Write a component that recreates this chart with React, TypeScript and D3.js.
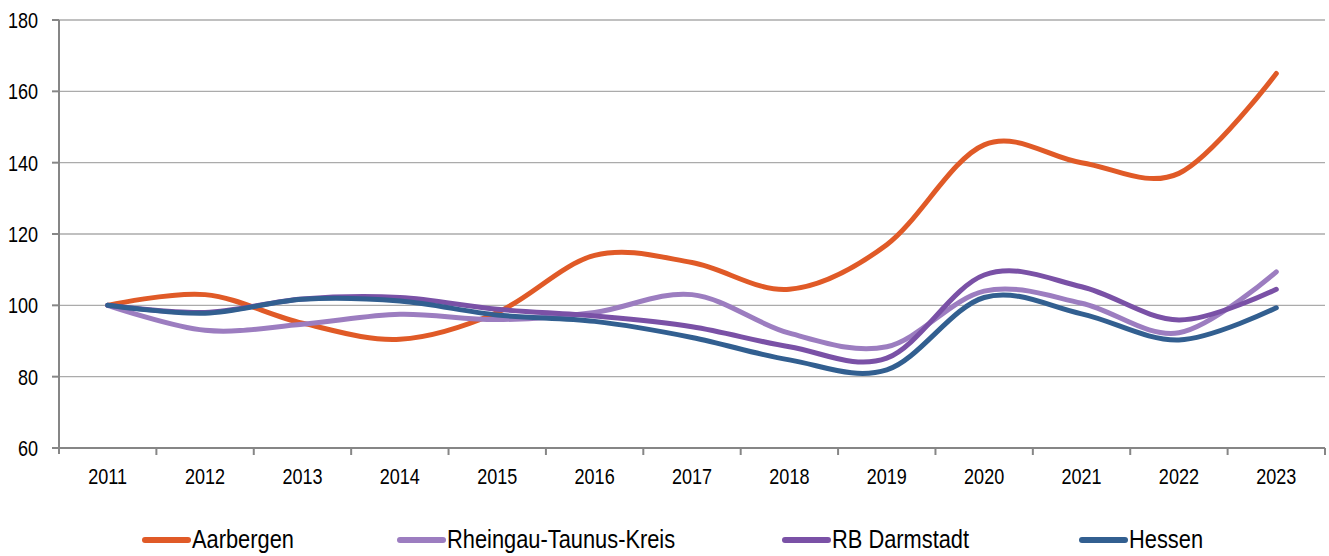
import React from "react";
import * as d3 from "d3";

const years = ["2011","2012","2013","2014","2015","2016","2017","2018","2019","2020","2021","2022","2023"];
const aarbergen = [100, 103, 95, 90.5, 98, 114, 112, 104.5, 117, 145, 140, 137, 165];
const rheingau = [100, 93, 94.7, 97.5, 96, 98, 103, 92.2, 88.4, 104, 100.6, 92.3, 109.4];
const rbDarmstadt = [100, 98, 101.8, 102.2, 98.9, 97, 94, 88.4, 85.2, 108.5, 105.2, 95.9, 104.5];
const hessen = [100, 97.8, 101.7, 101.2, 97.3, 95.5, 91, 84.7, 81.9, 102.2, 97.6, 90.3, 99.3];
const yTicks = [60, 80, 100, 120, 140, 160, 180];

const seriesNames = ["Aarbergen", "Rheingau-Taunus-Kreis", "RB Darmstadt", "Hessen"];
const seriesValues = [aarbergen, rheingau, rbDarmstadt, hessen];
const seriesColors = ["#E05A27", "#9C7DC0", "#7A51A6", "#325F90"];
const legendX = [143, 398, 783, 1080];

const W = 1329, H = 556;
const left = 59, right = 1325, top = 20, bottom = 448;
const FONT = "'Liberation Sans', Arial, sans-serif";
const SX = 0.82;

function NText(props: { x: number; y: number; size: number; anchor?: string; sx?: number; children: React.ReactNode }) {
  const s = props.sx ?? SX;
  return (
    <text
      transform={`translate(${props.x},${props.y}) scale(${s},1)`}
      textAnchor={props.anchor || "start"}
      fontFamily={FONT}
      fontSize={props.size}
      fill="#000"
    >
      {props.children}
    </text>
  );
}

export default function App() {
  const x = d3.scaleBand<string>().domain(years).range([left, right]).padding(0);
  const y = d3.scaleLinear().domain([60, 180]).range([bottom, top]);
  const cx = (yr: string) => (x(yr) as number) + x.bandwidth() / 2;
  const line = d3
    .line<number>()
    .x((_, i) => cx(years[i]))
    .y((v) => y(v))
    .curve(d3.curveCardinal.tension(0));

  return (
    <svg width={W} height={H} style={{ position: "absolute", left: 0, top: 0, background: "#fff" }}>
      {yTicks.map((t) => (
        <line key={"g" + t} x1={left} x2={right} y1={y(t)} y2={y(t)} stroke="#ababab" strokeWidth={1.3} />
      ))}
      <line x1={left} x2={left} y1={top} y2={bottom + 6} stroke="#868686" strokeWidth={2} />
      {yTicks.map((t) => (
        <g key={"yt" + t}>
          <line x1={left - 7} x2={left} y1={y(t)} y2={y(t)} stroke="#868686" strokeWidth={2} />
          <NText x={38} y={y(t) + 8} size={22} anchor="end">
            {t}
          </NText>
        </g>
      ))}
      <line x1={left} x2={right} y1={bottom} y2={bottom} stroke="#868686" strokeWidth={2} />
      {years.map((yr) => (
        <line key={"xt" + yr} x1={(x(yr) as number) + x.bandwidth()} x2={(x(yr) as number) + x.bandwidth()} y1={bottom} y2={bottom + 7} stroke="#868686" strokeWidth={2} />
      ))}
      {years.map((yr) => (
        <NText key={"xl" + yr} x={cx(yr)} y={484} size={22} anchor="middle">
          {yr}
        </NText>
      ))}
      {seriesValues.map((vals, i) => (
        <path key={seriesNames[i]} d={line(vals) || ""} fill="none" stroke={seriesColors[i]} strokeWidth={5} strokeLinecap="round" strokeLinejoin="round" />
      ))}
      {seriesNames.map((n, i) => (
        <g key={"lg" + n}>
          <line x1={legendX[i] + 2} x2={legendX[i] + 45} y1={540} y2={540} stroke={seriesColors[i]} strokeWidth={6} strokeLinecap="round" />
          <NText x={legendX[i] + 49} y={548} size={26} sx={0.84}>
            {n}
          </NText>
        </g>
      ))}
    </svg>
  );
}
